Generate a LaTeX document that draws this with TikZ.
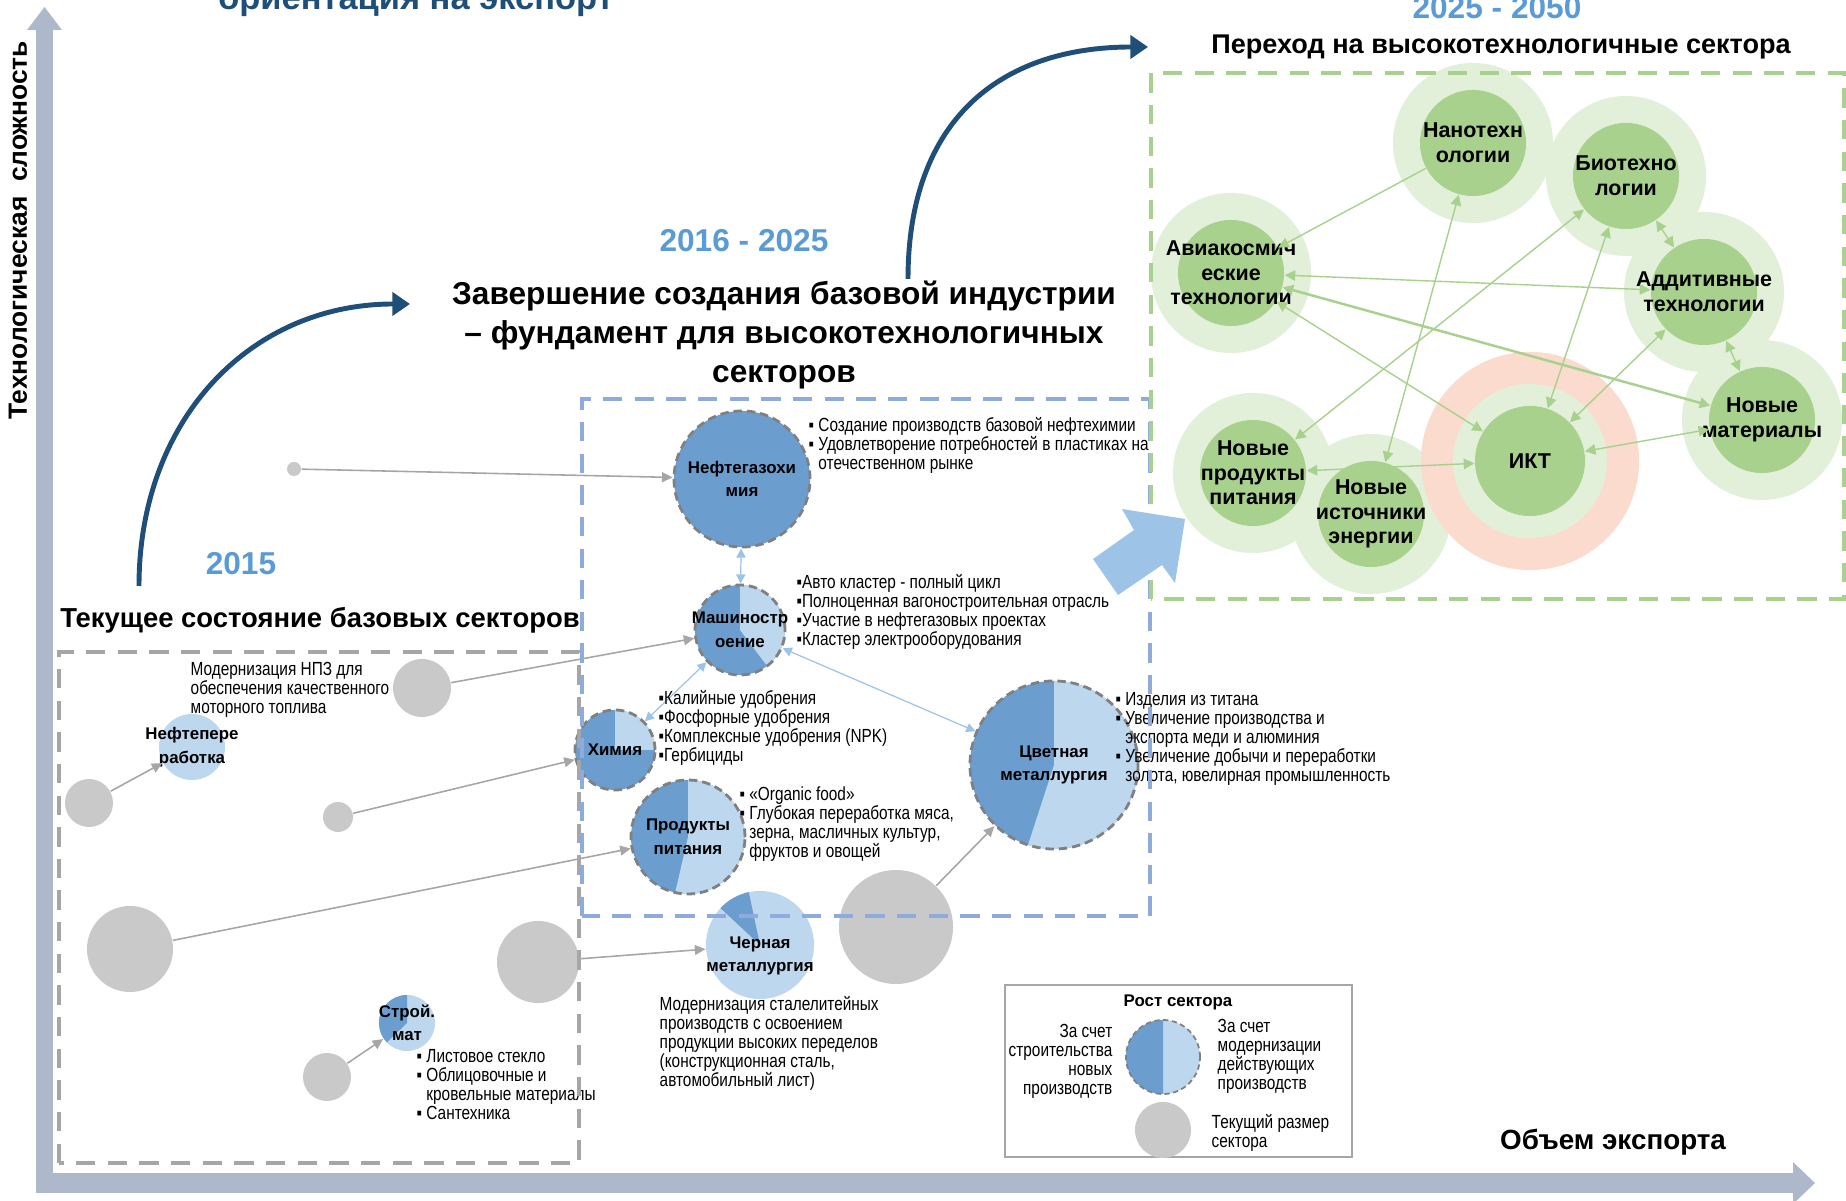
\documentclass[tikz,border=0pt]{standalone}
\usepackage{fontspec}
\setmainfont{Liberation Sans}
\newfontfamily\narrowfont{Liberation Sans}[FakeStretch=0.81]
\usetikzlibrary{arrows.meta}

\definecolor{axisgray}{HTML}{ADB9CA}
\definecolor{navy}{HTML}{1F4E79}
\definecolor{yearblue}{HTML}{5B9BD5}
\definecolor{secdark}{HTML}{6B9ECF}
\definecolor{seclight}{HTML}{BDD7EE}
\definecolor{curgray}{HTML}{C9C9C9}
\definecolor{linkgray}{HTML}{A6A6A6}
\definecolor{linkblue}{HTML}{9DC3E6}
\definecolor{boxblue}{HTML}{8FAADC}
\definecolor{boxgreen}{HTML}{A9D18E}
\definecolor{techgreen}{HTML}{A9D18E}
\definecolor{halogreen}{HTML}{E2F0D9}
\definecolor{iktsalmon}{HTML}{FADBCE}
\definecolor{arrowblue}{HTML}{9DC3E6}

\newcommand{\seclabel}{\bfseries\fontsize{4.8}{6.7}\selectfont}
\newcommand{\techlabel}{\bfseries\fontsize{6.1}{7}\selectfont}
\newcommand{\notetext}{\narrowfont\fontsize{5.4}{5.4}\selectfont}
\newcommand{\sectorpie}[6]{%
  \fill[#3] #1 circle[radius=#2];
  \fill[#4] #1 -- ++(#5:#2) arc[start angle=#5, end angle=#6, radius=#2] -- cycle;}

\tikzset{
  current/.style={circle, fill=curgray, inner sep=0pt},
  sector/.style={circle, draw=gray, line width=0.8pt, dash pattern=on 2.4pt off 1.4pt, inner sep=0pt},
  plainsector/.style={circle, inner sep=0pt},
  sectext/.style={label={[align=center, font=\seclabel]center:#1}},
  halo/.style={circle, fill=halogreen, inner sep=0pt, minimum size=1.6cm},
  tech/.style={circle, fill=techgreen, inner sep=0pt, minimum size=1.06cm},
  techtext/.style={label={[align=center, font=\techlabel]center:#1}},
  note/.style={anchor=north west, align=left, inner sep=0pt, font=\notetext},
  growth/.style={-{Triangle[length=3pt,width=2.8pt]}, draw=linkgray, line width=0.45pt},
  bluelink/.style={{Triangle[length=2.6pt,width=2.6pt]}-{Triangle[length=2.6pt,width=2.6pt]}, draw=linkblue, line width=0.35pt},
  greenlink/.style={{Triangle[length=3pt,width=3pt]}-{Triangle[length=3pt,width=3pt]}, draw=techgreen, line width=0.4pt},
  stagebox/.style={dash pattern=on 5.5pt off 3.5pt, line width=1.4pt},
  stage/.style={-{Triangle[length=5pt,width=6.5pt]}, draw=navy, line width=1.4pt},
  year/.style={font=\bfseries\fontsize{9}{11}\selectfont, text=yearblue},
  heading/.style={font=\bfseries\fontsize{7.8}{9}\selectfont, align=center}
}

\begin{document}
\begin{tikzpicture}[x=0.01cm, y=0.01cm]
  \useasboundingbox (0,0) rectangle (1846,1200);

  % Оси
  \fill[axisgray] (36,7) rectangle (53,1170);
  \fill[axisgray] (27,1170) -- (44.5,1193) -- (62,1170) -- cycle;
  \fill[axisgray] (36,7) rectangle (1793,27);
  \fill[axisgray] (1793,-4) -- (1815,17) -- (1793,38) -- cycle;
  \node[heading, font=\bfseries\fontsize{7.5}{9}\selectfont, rotate=90] (ylabel) at (18,970) {Технологическая\ \ сложность};
  \node[heading, font=\bfseries\fontsize{7.9}{9}\selectfont] (xlabel) at (1613,58) {Объем экспорта};

  % Текущий размер секторов
  \node[current, minimum size=0.14cm] (g1) at (294,731) {};
  \node[current, minimum size=0.58cm] (g2) at (422,512) {};
  \node[current, minimum size=0.48cm] (g3) at (89,397) {};
  \node[current, minimum size=0.30cm] (g4) at (338,383) {};
  \node[current, minimum size=0.86cm] (g5) at (130,251) {};
  \node[current, minimum size=0.82cm] (g6) at (538,238) {};
  \node[current, minimum size=1.14cm] (g7) at (896,273) {};
  \node[current, minimum size=0.48cm] (g8) at (327,123) {};

  % Базовые секторы
  \node[sector, fill=secdark, minimum size=1.36cm, sectext={Нефтегазохи\\мия}] (neft) at (742,721) {};
  \sectorpie{(740,570)}{0.45cm}{secdark}{seclight}{-53}{90}
  \node[sector, minimum size=0.9cm, sectext={Машиностр\\оение}] (mash) at (740,570) {};
  \sectorpie{(615,450)}{0.40cm}{secdark}{seclight}{0}{90}
  \node[sector, minimum size=0.8cm, sectext={Химия}] (chem) at (615,450) {};
  \sectorpie{(688,363)}{0.57cm}{secdark}{seclight}{-103}{90}
  \node[sector, minimum size=1.14cm, sectext={Продукты\\питания}] (food) at (688,363) {};
  \sectorpie{(1054,435)}{0.84cm}{secdark}{seclight}{-108}{90}
  \node[sector, minimum size=1.68cm, sectext={Цветная\\металлургия}] (color) at (1054,435) {};
  \sectorpie{(760,255)}{0.54cm}{seclight}{secdark}{102}{137}
  \node[plainsector, minimum size=1.08cm] (black) at (760,255) {};
  \node[font=\seclabel, align=center] (blackLbl) at (760,244) {Черная\\металлургия};
  \node[plainsector, fill=seclight, minimum size=0.66cm, sectext={Нефтепере\\работка}] (npz) at (192,453) {};
  \sectorpie{(407,177)}{0.28cm}{seclight}{secdark}{90}{224}
  \node[plainsector, minimum size=0.56cm, sectext={Строй.\\мат}] (stroy) at (407,177) {};

  % Стрелки роста
  \draw[growth] (g1) -- (neft);
  \draw[growth] (g2) -- (mash);
  \draw[growth] (g3) -- (npz);
  \draw[growth] (g4) -- (chem);
  \draw[growth] (g5) -- (food);
  \draw[growth] (g6) -- (black);
  \draw[growth] (g7) -- (color);
  \draw[growth] (g8) -- (stroy);
  \draw[bluelink] (neft) -- (mash);
  \draw[bluelink] (chem) -- (mash);
  \draw[bluelink] (mash) -- (color);

  % Пояснения
  \node[note] (neftTxt) at (808,783) {▪ Создание производств базовой нефтехимии\\▪ Удовлетворение потребностей в пластиках на\\\phantom{▪ }отечественном рынке};
  \node[note] (mashTxt) at (796,626) {▪Авто кластер - полный цикл\\▪Полноценная вагоностроительная отрасль\\▪Участие в нефтегазовых проектах\\▪Кластер электрооборудования};
  \node[note] (chemTxt) at (658,510) {▪Калийные удобрения\\▪Фосфорные удобрения\\▪Комплексные удобрения (NPK)\\▪Гербициды};
  \node[note] (foodTxt) at (739,414) {▪ «Organic food»\\▪ Глубокая переработка мяса,\\\phantom{▪ }зерна, масличных культур,\\\phantom{▪ }фруктов и овощей};
  \node[note] (colorTxt) at (1115,508) {▪ Изделия из титана\\▪ Увеличение производства и\\\phantom{▪ }экспорта меди и алюминия\\▪ Увеличение добычи и переработки\\\phantom{▪ }золота, ювелирная промышленность};
  \node[note] (npzTxt) at (190,538) {Модернизация НПЗ для\\обеспечения качественного\\моторного топлива};
  \node[note] (blackTxt) at (659,204) {Модернизация сталелитейных\\производств с освоением\\продукции высоких переделов\\(конструкционная сталь,\\автомобильный лист)};
  \node[note] (stroyTxt) at (416,151) {▪ Листовое стекло\\▪ Облицовочные и\\\phantom{▪ }кровельные материалы\\▪ Сантехника};

  % Высокотехнологичные секторы
  \fill[white] (1151,601) rectangle (1844,1127);
  \node[halo] (nano-h) at (1473,1057) {};
  \node[halo] (bio-h) at (1626,1024) {};
  \node[halo] (avia-h) at (1231,927) {};
  \node[halo] (food2-h) at (1253,727) {};
  \node[halo] (energy-h) at (1371,686) {};
  \node[circle, fill=iktsalmon, minimum size=2.18cm] (ikt-s) at (1530,739) {};
  \node[halo, minimum size=1.54cm] (ikt-h) at (1530,739) {};
  \node[halo] (add-h) at (1704,908) {};
  \node[halo] (mat-h) at (1762,780) {};
  \node[tech, techtext={Нанотехн\\ологии}] (nano) at (1473,1057) {};
  \node[tech, techtext={Биотехно\\логии}] (bio) at (1626,1024) {};
  \node[tech, techtext={Авиакосмич\\еские\\технологии}] (avia) at (1231,927) {};
  \node[tech, techtext={Новые\\продукты\\питания}] (food2) at (1253,727) {};
  \node[tech, techtext={Новые\\источники\\энергии}] (energy) at (1371,686) {};
  \node[tech, minimum size=1.1cm, techtext={ИКТ}] (ikt) at (1530,739) {};
  \node[tech, techtext={Аддитивные\\технологии}] (add) at (1704,908) {};
  \node[tech, techtext={Новые\\материалы}] (mat) at (1762,780) {};

  % Связи
  \draw[draw=techgreen, line width=0.4pt, -{Triangle[length=3pt,width=3pt]}] (nano) -- (avia);
  \draw[greenlink] (avia) -- (add);
  \draw[greenlink, line width=0.7pt] (avia) -- (mat);
  \draw[greenlink] (avia) -- (ikt);
  \draw[greenlink] (bio) -- (food2);
  \draw[greenlink] (nano) -- (energy);
  \draw[greenlink] (bio) -- (ikt);
  \draw[greenlink] (bio) -- (add);
  \draw[greenlink] (add) -- (ikt);
  \draw[greenlink] (add) -- (mat);
  \draw[greenlink] (ikt) -- (mat);
  \draw[greenlink] (food2) -- (ikt);

  % Рамки этапов
  \draw[stagebox, draw=linkgray] (59,37) rectangle (579,548);
  \draw[stagebox, draw=boxblue] (582,284) rectangle (1150,801);
  \draw[stagebox, draw=boxgreen] (1151,601) rectangle (1844,1127);
  \fill[arrowblue] (1118,605) -- (1093,641) -- (1134,670) -- (1122,691) -- (1185,681) -- (1175,617) -- (1162,635) -- cycle;

  % Этапы
  \node[year] (y2015) at (241,636) {2015};
  \node[heading] (now) at (320,580) {Текущее состояние базовых секторов};
  \node[year] (y2016) at (744,959) {2016 - 2025};
  \node[heading, font=\bfseries\fontsize{9}{11.1}\selectfont] (base) at (784,865) {Завершение создания базовой индустрии\\– фундамент для высокотехнологичных\\секторов};
  \node[year, anchor=base] (y2025) at (1497,1181) {2025 - 2050};
  \node[heading, font=\bfseries\fontsize{7.7}{9}\selectfont] (hitech) at (1501,1153) {Переход на высокотехнологичные сектора};
  \node[font=\bfseries\fontsize{9.8}{11}\selectfont, text=navy, anchor=base] (export) at (416,1190) {ориентация на экспорт};
  \coordinate (a1s) at (139,614);
  \coordinate (a1e) at (410,896);
  \coordinate (a2s) at (908,921);
  \coordinate (a2e) at (1148,1153);
  \draw[stage] (a1s) .. controls (139,780) and (250,896) .. (a1e);
  \draw[stage] (a2s) .. controls (908,1080) and (1000,1153) .. (a2e);

  % Легенда
  \node[draw=linkgray, line width=0.4pt, minimum width=3.47cm, minimum height=1.72cm, inner sep=0pt] (legend) at (1178.5,129) {};
  \node[font=\bfseries\fontsize{4.8}{6}\selectfont] (legTitle) at (1178,198) {Рост сектора};
  \sectorpie{(1163,143)}{0.37cm}{seclight}{secdark}{90}{270}
  \node[sector, line width=0.5pt, dash pattern=on 1.5pt off 1pt, minimum size=0.74cm] (legPie) at (1163,143) {};
  \node[current, minimum size=0.56cm] (legCur) at (1163,70) {};
  \node[note, anchor=north east, align=right] (legNew) at (1113,176) {За счет\\строительства\\новых\\производств};
  \node[note] (legMod) at (1217,181) {За счет\\модернизации\\действующих\\производств};
  \node[note] (legCurTxt) at (1211,86) {Текущий размер\\сектора};
\end{tikzpicture}
\end{document}
